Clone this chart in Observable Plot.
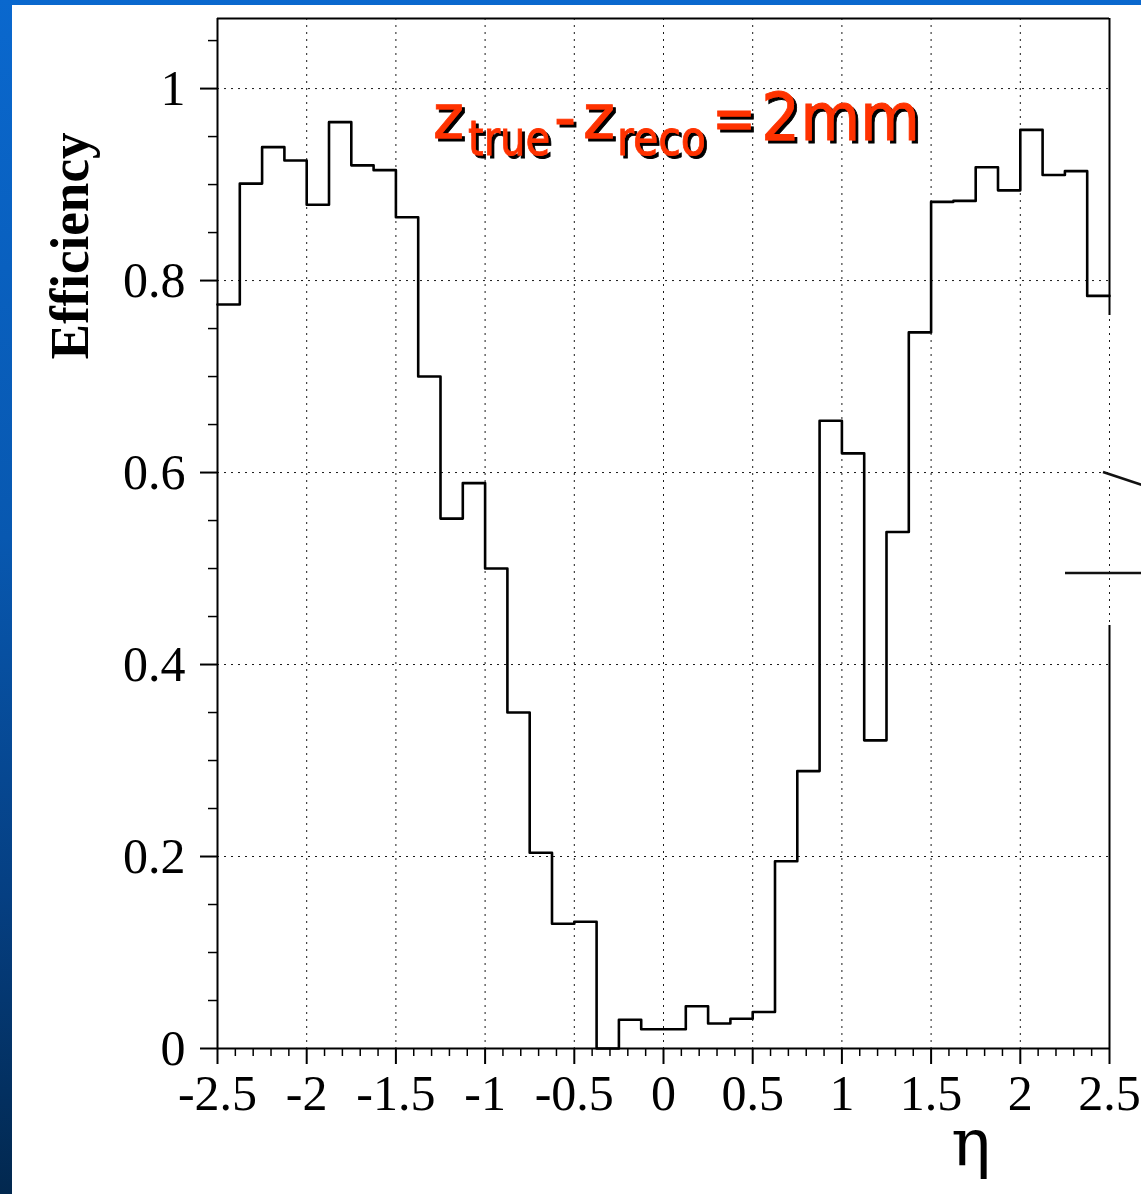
<!DOCTYPE html>
<html><head><meta charset="utf-8">
<script src="https://cdn.jsdelivr.net/npm/d3@7"></script>
<script src="https://cdn.jsdelivr.net/npm/@observablehq/plot@0.6"></script>
<style>
html,body{margin:0;padding:0;}
body{width:1141px;height:1194px;overflow:hidden;position:relative;
  background:linear-gradient(to bottom,#0a68ce 0%,#0858b0 45%,#053f82 75%,#02284f 100%);}
#panel{position:absolute;left:12px;top:5px;width:1129px;height:1189px;background:#fff;}
#chart{position:absolute;left:0;top:0;}
#chart svg{overflow:visible;}
</style></head><body>
<div id="panel"></div>
<div id="chart"></div>
<script>
// bin edges in eta (40 bins)
const etaEdges = [-2.5,-2.375,-2.25,-2.125,-2,-1.875,-1.75,-1.625,-1.5,-1.375,-1.25,-1.125,-1,-0.875,-0.75,-0.625,-0.5,-0.375,-0.25,-0.125,0,0.125,0.25,0.375,0.5,0.625,0.75,0.875,1,1.125,1.25,1.375,1.5,1.625,1.75,1.875,2,2.125,2.25,2.375,2.5];
// efficiency per bin
const efficiency = [0.775,0.901,0.939,0.925,0.879,0.965,0.920,0.915,0.866,0.700,0.552,0.589,0.500,0.350,0.204,0.130,0.132,0.000,0.030,0.020,0.020,0.044,0.026,0.031,0.038,0.195,0.289,0.654,0.620,0.321,0.538,0.746,0.882,0.883,0.918,0.894,0.957,0.910,0.914,0.784];
const xMajor = [-2.5,-2,-1.5,-1,-0.5,0,0.5,1,1.5,2,2.5];
const xMinor = [-2.4,-2.3,-2.2,-2.1,-1.9,-1.8,-1.7,-1.6,-1.4,-1.3,-1.2,-1.1,-0.9,-0.8,-0.7,-0.6,-0.4,-0.3,-0.2,-0.1,0.1,0.2,0.3,0.4,0.6,0.7,0.8,0.9,1.1,1.2,1.3,1.4,1.6,1.7,1.8,1.9,2.1,2.2,2.3,2.4];
const yMajor = [0,0.2,0.4,0.6,0.8,1];
const yMinor = [0.05,0.1,0.15,0.25,0.3,0.35,0.45,0.5,0.55,0.65,0.7,0.75,0.85,0.9,0.95,1.05];
const yMax = 1.073;
// right frame border is partly hidden in the original slide
const rightFrame = [{y1:0, y2:0.4406}, {y1:0.7635, y2:yMax}];

const stepPts = efficiency.map((v,i)=>({x:etaEdges[i], y:v}));
stepPts.push({x:etaEdges[etaEdges.length-1], y:efficiency[efficiency.length-1]});

const fmt = d => `${d}`;
const grid = {stroke:"#000", strokeOpacity:0.9, strokeWidth:1, strokeDasharray:"2,5"};

const svg = Plot.plot({
  width:1141, height:1194,
  marginLeft:217, marginRight:32, marginTop:18, marginBottom:146,
  style:{background:"transparent", fontFamily:"'Liberation Serif', 'Times New Roman', serif", fontSize:"50px", color:"#000"},
  x:{domain:[-2.5,2.5], label:null},
  y:{domain:[0,yMax], label:null},
  marks:[
    Plot.gridX(xMajor, grid),
    Plot.gridY(yMajor, grid),
    Plot.axisX(xMajor, {tickSize:16, tickPadding:10, tickFormat:fmt, strokeWidth:2, fontSize:50, label:null}),
    Plot.axisX(xMinor, {tickSize:8, tickFormat:()=>"", strokeWidth:1.5, label:null}),
    Plot.axisY(yMajor, {tickSize:17, tickPadding:15, tickFormat:fmt, strokeWidth:2, fontSize:50, label:null}),
    Plot.axisY(yMinor, {tickSize:9, tickFormat:()=>"", strokeWidth:1.5, label:null}),
    Plot.ruleX([-2.5], {stroke:"#000", strokeWidth:2}),
    Plot.ruleY([0], {stroke:"#000", strokeWidth:2.2}),
    Plot.ruleY([yMax], {stroke:"#000", strokeWidth:2}),
    Plot.ruleX(rightFrame, {x:()=>2.5, y1:"y1", y2:"y2", stroke:"#000", strokeWidth:2}),
    Plot.line(stepPts, {x:"x", y:"y", curve:"step-after", stroke:"#000", strokeWidth:2.6})
  ]
});
document.getElementById("chart").appendChild(svg);

const s = d3.select(svg);
const defs = s.append("defs");
const f = defs.append("filter").attr("id","shadow").attr("x","-20%").attr("y","-20%").attr("width","140%").attr("height","140%");
f.append("feDropShadow").attr("dx",3).attr("dy",3).attr("stdDeviation",0.3).attr("flood-color","#000").attr("flood-opacity",1);

// y-axis label
s.append("text")
  .attr("transform","translate(88,246) rotate(-90)")
  .attr("text-anchor","middle")
  .attr("font-family","'Liberation Serif', serif")
  .attr("font-weight","bold")
  .attr("font-size",54)
  .attr("textLength",227).attr("lengthAdjust","spacingAndGlyphs")
  .attr("fill","#000")
  .text("Efficiency");
// x-axis label
s.append("text")
  .attr("x",971).attr("y",1165)
  .attr("text-anchor","middle")
  .attr("font-family","'DejaVu Serif', serif")
  .attr("font-size",66)
  .attr("fill","#000")
  .text("η");

// annotation z_true - z_reco = 2mm
const parts = [
  {t:"z", x:433, y:138, fs:60, w:31},
  {t:"true", x:468, y:155, fs:48, w:82},
  {t:"-", x:554, y:138, fs:60, w:22},
  {t:"z", x:583, y:138, fs:60, w:32},
  {t:"reco", x:617, y:155, fs:48, w:89},
  {t:"=", x:712, y:140, fs:62, w:44},
  {t:"2mm", x:761, y:140, fs:66, w:159}
];
const ann = s.append("g").attr("font-family","'DejaVu Sans', Verdana, sans-serif")
  .attr("text-anchor","start").attr("filter","url(#shadow)");
for (const p of parts) {
  ann.append("text").attr("x",p.x).attr("y",p.y)
    .attr("text-anchor","start")
    .attr("font-size",p.fs).attr("fill","#ff3300")
    .attr("stroke","#ff3300").attr("stroke-width",0.8)
    .attr("textLength",p.w).attr("lengthAdjust","spacingAndGlyphs")
    .text(p.t);
}
// fragments of an overlapping slide drawing at the right edge
s.append("line").attr("x1",1103).attr("y1",472).attr("x2",1145).attr("y2",486).attr("stroke","#111").attr("stroke-width",2.5);
s.append("line").attr("x1",1065).attr("y1",573).attr("x2",1145).attr("y2",573).attr("stroke","#111").attr("stroke-width",2.5);
</script>
</body></html>
